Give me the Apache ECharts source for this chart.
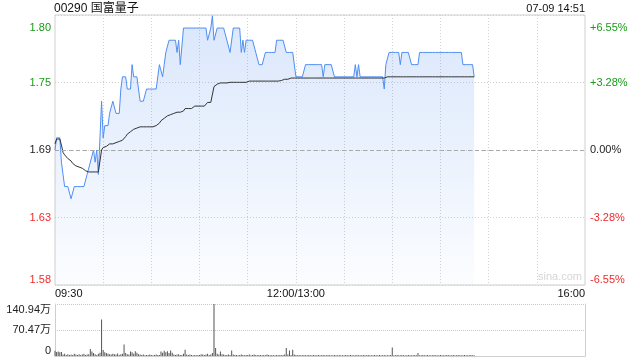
<!DOCTYPE html>
<html><head><meta charset="utf-8">
<script src="https://cdn.jsdelivr.net/npm/echarts@6/dist/echarts.min.js"></script>
<style>html,body{margin:0;padding:0;background:#fff}#c{width:640px;height:360px}</style>
</head><body><div id="c"></div>
<script>
const prevClose = 1.69;
const rangePct = 6.55;
const stockTitle = '00290 国富量子';
const stamp = '07-09 14:51';
const priceTickLabels = ['1.58', '1.63', '1.69', '1.75', '1.80'];
const pctTickLabels = ['-6.55%', '-3.28%', '0.00%', '+3.28%', '+6.55%'];
const volTickLabels = ['0', '70.47万', '140.94万'];
const volMax = 140.94;
const xTickLabels = { 0: '09:30', 150: '12:00/13:00', 330: '16:00' };

// price per minute from 09:30 to 14:51
const price = [
1.69,1.70,1.70,1.70,1.68,1.67,1.66,1.66,1.66,1.66,
1.65,1.65,1.66,1.66,1.66,1.66,1.66,1.66,1.66,1.66,
1.67,1.67,1.68,1.68,1.69,1.68,1.69,1.67,1.67,1.73,
1.70,1.71,1.71,1.71,1.72,1.72,1.73,1.73,1.72,1.72,
1.72,1.74,1.75,1.75,1.75,1.74,1.74,1.74,1.76,1.75,
1.75,1.75,1.75,1.73,1.73,1.73,1.73,1.74,1.74,1.74,
1.74,1.74,1.74,1.74,1.74,1.76,1.76,1.75,1.76,1.77,
1.77,1.78,1.78,1.78,1.78,1.78,1.77,1.78,1.76,1.76,
1.79,1.79,1.79,1.79,1.79,1.79,1.79,1.79,1.79,1.79,
1.79,1.79,1.79,1.79,1.79,1.78,1.78,1.79,1.80,1.78,
1.78,1.79,1.79,1.79,1.79,1.79,1.79,1.78,1.78,1.77,
1.77,1.79,1.79,1.79,1.79,1.79,1.77,1.78,1.77,1.78,
1.78,1.78,1.78,1.78,1.78,1.77,1.77,1.76,1.76,1.76,
1.76,1.77,1.77,1.77,1.77,1.77,1.77,1.77,1.78,1.78,
1.78,1.78,1.78,1.78,1.77,1.77,1.77,1.77,1.77,1.77,
1.75,1.75,1.75,1.75,1.75,1.75,1.76,1.76,1.76,1.76,
1.76,1.76,1.76,1.76,1.76,1.76,1.76,1.75,1.76,1.76,
1.76,1.76,1.76,1.76,1.75,1.75,1.75,1.75,1.75,1.75,
1.75,1.75,1.75,1.75,1.75,1.75,1.75,1.76,1.75,1.76,
1.75,1.75,1.75,1.75,1.75,1.75,1.75,1.75,1.75,1.75,
1.75,1.75,1.75,1.75,1.75,1.74,1.76,1.76,1.77,1.77,
1.77,1.77,1.77,1.77,1.77,1.76,1.77,1.77,1.77,1.77,
1.77,1.77,1.76,1.76,1.76,1.76,1.76,1.77,1.77,1.77,
1.77,1.77,1.77,1.77,1.77,1.77,1.77,1.77,1.77,1.77,
1.77,1.77,1.77,1.77,1.77,1.77,1.77,1.77,1.77,1.77,
1.77,1.77,1.77,1.77,1.76,1.76,1.76,1.76,1.76,1.76,
1.76,1.75
];

// average price per minute
const avgPrice = [
1.695,1.699,1.700,1.699,1.694,1.688,1.686,1.685,1.683,1.682,
1.681,1.679,1.678,1.677,1.677,1.676,1.676,1.675,1.674,1.673,
1.673,1.672,1.672,1.672,1.672,1.672,1.672,1.672,1.672,1.690,
1.692,1.693,1.693,1.694,1.695,1.695,1.695,1.696,1.696,1.696,
1.697,1.697,1.698,1.699,1.701,1.703,1.704,1.705,1.706,1.707,
1.708,1.708,1.709,1.709,1.709,1.709,1.709,1.709,1.709,1.709,
1.709,1.709,1.710,1.710,1.710,1.712,1.714,1.715,1.716,1.717,
1.718,1.719,1.719,1.719,1.720,1.721,1.721,1.721,1.721,1.722,
1.722,1.724,1.724,1.724,1.724,1.724,1.725,1.726,1.726,1.726,
1.726,1.726,1.726,1.726,1.727,1.729,1.729,1.729,1.730,1.742,
1.743,1.744,1.745,1.745,1.745,1.745,1.745,1.745,1.745,1.7455,
1.7455,1.7455,1.7455,1.7455,1.7455,1.7455,1.7455,1.7455,1.7455,1.7455,
1.7465,1.7465,1.7465,1.7465,1.7465,1.7465,1.7465,1.7465,1.7465,1.7465,
1.7465,1.7465,1.7465,1.7465,1.7465,1.7465,1.7465,1.7465,1.7465,1.7465,
1.7465,1.747,1.748,1.748,1.748,1.748,1.749,1.749,1.749,1.749,
1.749,1.749,1.749,1.749,1.749,1.749,1.749,1.749,1.749,1.749,
1.749,1.749,1.749,1.749,1.749,1.749,1.749,1.749,1.749,1.749,
1.749,1.749,1.749,1.749,1.749,1.749,1.749,1.749,1.749,1.749,
1.749,1.749,1.749,1.749,1.749,1.749,1.749,1.749,1.749,1.749,
1.749,1.749,1.749,1.749,1.749,1.749,1.749,1.749,1.749,1.749,
1.749,1.749,1.749,1.749,1.749,1.749,1.750,1.750,1.750,1.750,
1.750,1.750,1.750,1.750,1.750,1.750,1.750,1.750,1.750,1.750,
1.750,1.750,1.750,1.750,1.750,1.750,1.750,1.750,1.750,1.750,
1.750,1.750,1.750,1.750,1.750,1.750,1.750,1.750,1.750,1.750,
1.750,1.750,1.750,1.750,1.750,1.750,1.750,1.750,1.750,1.750,
1.750,1.750,1.750,1.750,1.750,1.750,1.750,1.750,1.750,1.750,
1.750,1.750
];

// volume per minute, in 万 shares
const volume = [
14,11,12,10,11,4,6,3,5,3,
4,3,6,4,3,5,3,4,6,3,
4,5,19,12,8,5,3,6,9,99,
16,10,8,6,5,4,6,5,4,7,
3,5,6,31,8,5,4,12,10,6,
13,9,5,4,3,4,2,3,3,4,
3,2,3,4,3,3,12,9,14,10,
13,8,15,9,4,3,4,5,3,3,
6,17,4,3,4,3,2,3,2,3,
3,5,4,3,4,6,3,4,8,140.94,
22,6,4,12,5,4,3,3,4,3,
15,4,3,3,2,3,4,3,2,3,
3,4,2,3,4,3,2,3,3,2,
3,2,4,3,2,3,2,2,3,2,
3,2,3,4,22,4,15,3,17,4,
3,2,3,2,2,3,2,2,3,2,
2,3,2,2,3,2,2,3,2,2,
3,2,2,2,3,2,2,3,2,2,
2,3,2,2,3,2,2,2,3,2,
2,2,3,2,2,3,2,2,2,3,
2,2,3,2,2,3,2,2,2,3,
23,2,2,3,2,2,3,2,2,2,
3,2,2,2,3,2,8,2,2,3,
2,2,3,2,2,2,3,2,2,2,
3,2,2,2,3,2,2,2,3,2,
2,3,2,2,2,3,2,2,2,3,
2,2
];

// time categories: 09:30..12:00 (merged with 13:00) .. 16:00
const times = [];
for (let i = 0; i <= 330; i++) {
  let t = i <= 150 ? 9 * 60 + 30 + i : 13 * 60 + (i - 150);
  const h = Math.floor(t / 60), mm = t % 60;
  times.push((h < 10 ? '0' : '') + h + ':' + (mm < 10 ? '0' : '') + mm);
}

const toPct = p => (p - prevClose) / prevClose * 100;
const step = rangePct / 2;
const FONT = '"Liberation Sans", Arial, "Noto Sans CJK SC", sans-serif';
const GREEN = '#1a9a1a', RED = '#f02b2b', DARK = '#222';
const tickIdx = v => Math.round(v / step) + 2;
const richLab = {
  g: { color: GREEN, fontSize: 11, fontFamily: FONT },
  gt: { color: GREEN, fontSize: 11, fontFamily: FONT, lineHeight: 25 },
  r: { color: RED, fontSize: 11, fontFamily: FONT },
  k: { color: DARK, fontSize: 11, fontFamily: FONT }
};
const cls = i => (i === 4 ? 'gt' : (i > 2 ? 'g' : (i < 2 ? 'r' : 'k')));

const chart = echarts.init(document.getElementById('c'), null, { renderer: 'canvas' });
chart.setOption({
  animation: false,
  backgroundColor: '#fff',
  textStyle: { fontFamily: FONT },
  title: [
    { text: stockTitle, left: 54, top: 3, padding: 0, textStyle: { fontSize: 12, fontWeight: 'normal', color: '#111', fontFamily: FONT } },
    { text: stamp, right: 55, top: 3, padding: 0, textStyle: { fontSize: 11, fontWeight: 'normal', color: '#111', fontFamily: FONT } }
  ],
  graphic: [
    { type: 'text', right: 58, top: 271, style: { text: 'sina.com', fill: '#d6d6d6', font: '11px ' + FONT } }
  ],
  grid: [
    { left: 55, right: 55, top: 15, height: 270, show: true, borderColor: '#cfcfcf', borderWidth: 1, backgroundColor: 'transparent' },
    { left: 55, right: 55, top: 304, height: 52 }
  ],
  xAxis: [
    {
      type: 'category', gridIndex: 0, data: times, boundaryGap: false,
      axisLine: { show: false }, axisTick: { show: false },
      axisLabel: {
        show: true, margin: 3, color: '#111', fontSize: 11, fontFamily: FONT,
        interval: (i) => xTickLabels[i] !== undefined,
        formatter: (v, i) => xTickLabels[i] || '',
        alignMinLabel: 'left', alignMaxLabel: 'right'
      },
      splitLine: { show: true, interval: (i) => i % 30 === 0 && i !== 0 && i !== 330, lineStyle: { color: '#d0d0d0', type: [1, 2], width: 1 } }
    },
    {
      type: 'category', gridIndex: 1, data: times, boundaryGap: false,
      axisLine: { show: true, lineStyle: { color: '#cfcfcf' } }, axisTick: { show: false },
      axisLabel: { show: false }, splitLine: { show: false }
    }
  ],
  yAxis: [
    {
      type: 'value', gridIndex: 0, position: 'left', min: -rangePct, max: rangePct, interval: step,
      axisLine: { show: false }, axisTick: { show: false },
      axisLabel: {
        margin: 4, fontSize: 11,
        formatter: v => { const i = tickIdx(v); return '{' + cls(i) + '|' + priceTickLabels[i] + '}'; },
        rich: richLab, verticalAlignMinLabel: 'bottom', verticalAlignMaxLabel: 'top'
      },
      splitLine: { show: true, lineStyle: { color: '#d0d0d0', type: [1, 2], width: 1 } }
    },
    {
      type: 'value', gridIndex: 0, position: 'right', min: -rangePct, max: rangePct, interval: step,
      axisLine: { show: false }, axisTick: { show: false },
      axisLabel: {
        margin: 5, fontSize: 11,
        formatter: v => { const i = tickIdx(v); return '{' + cls(i) + '|' + pctTickLabels[i] + '}'; },
        rich: richLab, verticalAlignMinLabel: 'bottom', verticalAlignMaxLabel: 'top'
      },
      splitLine: { show: false }
    },
    {
      type: 'value', gridIndex: 1, position: 'left', min: 0, max: volMax, interval: volMax / 2,
      axisLine: { show: true, lineStyle: { color: '#cfcfcf' } }, axisTick: { show: false },
      axisLabel: {
        margin: 4, fontSize: 11, color: DARK,
        formatter: v => volTickLabels[Math.round(v / (volMax / 2))],
        verticalAlignMinLabel: 'bottom', verticalAlignMaxLabel: 'top'
      },
      splitLine: { show: true, lineStyle: { color: '#c8c8c8', type: [1, 1], width: 1 } }
    },
    {
      type: 'value', gridIndex: 1, position: 'right', min: 0, max: volMax, interval: volMax / 2,
      axisLine: { show: true, lineStyle: { color: '#cfcfcf' } }, axisTick: { show: false },
      axisLabel: { show: false }, splitLine: { show: false }
    }
  ],
  series: [
    {
      type: 'line', xAxisIndex: 0, yAxisIndex: 0, data: price.map(toPct),
      symbol: 'none', smooth: false,
      lineStyle: { color: '#4f8ef2', width: 1 },
      areaStyle: {
        origin: 'start',
        color: new echarts.graphic.LinearGradient(0, 0, 0, 1, [
          { offset: 0, color: 'rgba(80,140,240,0.30)' },
          { offset: 1, color: 'rgba(80,140,240,0.03)' }
        ])
      },
      markLine: {
        silent: true, symbol: 'none', label: { show: false },
        lineStyle: { color: '#a8a8a8', type: [4, 3], width: 1 },
        data: [{ yAxis: 0 }]
      },
      z: 3
    },
    {
      type: 'line', xAxisIndex: 0, yAxisIndex: 0, data: avgPrice.map(toPct),
      symbol: 'none', lineStyle: { color: '#333', width: 1 }, z: 4
    },
    {
      type: 'bar', xAxisIndex: 1, yAxisIndex: 2, data: volume,
      barWidth: 1, itemStyle: { color: '#555' }, large: false
    }
  ]
});
</script></body></html>
